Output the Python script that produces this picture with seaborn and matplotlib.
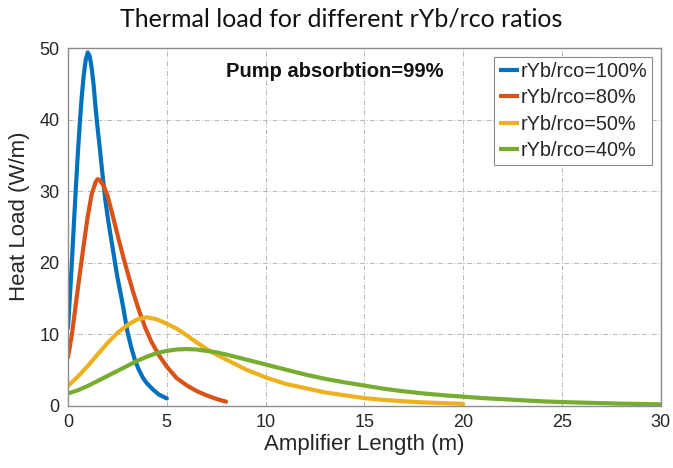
import numpy as np
import pandas as pd
import matplotlib
matplotlib.use("Agg")
import matplotlib.pyplot as plt
import seaborn as sns

# Heat load along the amplifier for four doping-radius ratios
x_100 = [0, 0.1, 0.2, 0.3, 0.4, 0.5, 0.6, 0.7, 0.8, 0.9, 1.0, 1.1, 1.2, 1.3, 1.4,
         1.5, 1.6, 1.7, 1.8, 1.9, 2.0, 2.1, 2.2, 2.3, 2.4, 2.5, 2.6, 2.7, 2.8,
         2.9, 3.0, 3.2, 3.4, 3.6, 3.8, 4.0, 4.3, 4.6, 5.0]
y_100 = [10.9, 15.5, 20.2, 25.5, 30.5, 35.3, 39.6, 43.3, 46.3, 48.4, 49.4, 48.9,
         47.2, 44.8, 41.6, 38.8, 36.3, 33.6, 31.0, 28.6, 26.6, 24.8, 23.1, 21.4,
         19.7, 18.0, 16.6, 15.2, 13.7, 12.1, 10.5, 8.2, 6.3, 5.0, 3.9, 3.15, 2.3,
         1.6, 1.05]

x_80 = [0, 0.2, 0.4, 0.6, 0.8, 1.0, 1.2, 1.4, 1.5, 1.6, 1.8, 2.0, 2.2, 2.4, 2.6,
        2.8, 3.0, 3.3, 3.6, 3.9, 4.2, 4.6, 5.0, 5.5, 6.0, 6.5, 7.0, 7.5, 8.0]
y_80 = [6.8, 10.0, 14.3, 18.5, 22.6, 26.5, 29.6, 31.3, 31.7, 31.6, 30.8, 29.4,
        27.3, 25.1, 22.9, 20.8, 18.8, 15.9, 13.3, 11.0, 9.1, 7.1, 5.5, 3.9, 2.9,
        2.1, 1.5, 1.0, 0.6]

x_50 = [0, 0.5, 1, 1.5, 2, 2.5, 3, 3.5, 4, 4.5, 5, 5.5, 6, 6.5, 7, 7.5, 8, 9,
        10, 11, 12, 13, 14, 15, 16, 17, 18, 19, 20]
y_50 = [2.8, 4.1, 5.6, 7.2, 8.8, 10.2, 11.3, 12.1, 12.4, 12.1, 11.5, 10.8, 9.9,
        8.9, 8.0, 7.2, 6.5, 5.1, 4.0, 3.1, 2.5, 1.9, 1.5, 1.1, 0.85, 0.65, 0.5,
        0.4, 0.3]

x_40 = [0, 0.5, 1, 1.5, 2, 2.5, 3, 3.5, 4, 4.5, 5, 5.5, 6, 6.5, 7, 7.5, 8, 9,
        10, 11, 12, 13, 14, 15, 16, 17, 18, 19, 20, 21, 22, 23, 24, 25, 26, 27,
        28, 29, 30]
y_40 = [1.75, 2.2, 2.8, 3.5, 4.2, 4.9, 5.6, 6.3, 6.9, 7.4, 7.7, 7.9, 7.95, 7.9,
        7.7, 7.5, 7.2, 6.5, 5.8, 5.1, 4.4, 3.8, 3.3, 2.85, 2.4, 2.05, 1.75, 1.5,
        1.3, 1.1, 0.95, 0.8, 0.65, 0.55, 0.47, 0.4, 0.33, 0.28, 0.23]

labels = ["rYb/rco=100%", "rYb/rco=80%", "rYb/rco=50%", "rYb/rco=40%"]
colors = ["#0072BD", "#D95319", "#EDB120", "#77AC30"]
x_ticks = [0, 5, 10, 15, 20, 25, 30]
y_ticks = [0, 10, 20, 30, 40, 50]

frames = []
for lab, xs, ys in zip(labels, [x_100, x_80, x_50, x_40], [y_100, y_80, y_50, y_40]):
    frames.append(pd.DataFrame({"length": xs, "load": ys, "ratio": lab}))
df = pd.concat(frames, ignore_index=True)

sns.set_theme(style="white")
plt.rcParams["font.family"] = ["Liberation Sans", "DejaVu Sans"]

fig = plt.figure(figsize=(6.73, 4.68), dpi=100)
ax = fig.add_axes([0.101, 0.1325, 0.881, 0.7645])

sns.lineplot(data=df, x="length", y="load", hue="ratio", hue_order=labels,
             palette=colors, linewidth=3.0, sort=False, estimator=None, ax=ax,
             legend=True)

ax.set_xlim(0, 30)
ax.set_ylim(0, 50)
ax.set_xticks(x_ticks)
ax.set_yticks(y_ticks)
ax.grid(True, color="#b8b8b8", linestyle=(0, (5, 2, 1, 2)), linewidth=0.7)
ax.set_axisbelow(True)
for s in ax.spines.values():
    s.set_color("#8c8c8c")
    s.set_linewidth(1.0)
ax.tick_params(direction="in", length=4, width=0.8, color="#8c8c8c",
               labelsize=13, labelcolor="#262626", pad=6)

ax.set_xlabel("Amplifier Length (m)", fontsize=16, color="#262626", labelpad=2)
ax.set_ylabel("Heat Load (W/m)", fontsize=16, color="#262626")
ax.yaxis.set_label_coords(-0.064, 0.531)

fig.suptitle("Thermal load for different rYb/rco ratios", x=0.507, y=0.985,
             fontsize=18, family=["Lato", "DejaVu Sans"], color="#111111")

ax.text(0.266, 0.935, "Pump absorbtion=99%", transform=ax.transAxes,
        fontsize=14.5, fontweight="bold", color="#111111", va="center")

leg = ax.legend(loc="upper right", bbox_to_anchor=(0.985, 0.976), fontsize=14.3,
                frameon=True, fancybox=False, framealpha=1, edgecolor="#8c8c8c",
                handlelength=1.0, handletextpad=0.05, labelspacing=0.38,
                borderpad=0.25, borderaxespad=0.0, title=None)
leg.get_frame().set_linewidth(0.8)
for line in leg.get_lines():
    line.set_solid_capstyle("butt")
for t in leg.get_texts():
    t.set_color("#262626")

fig.savefig("out.png", dpi=100)
